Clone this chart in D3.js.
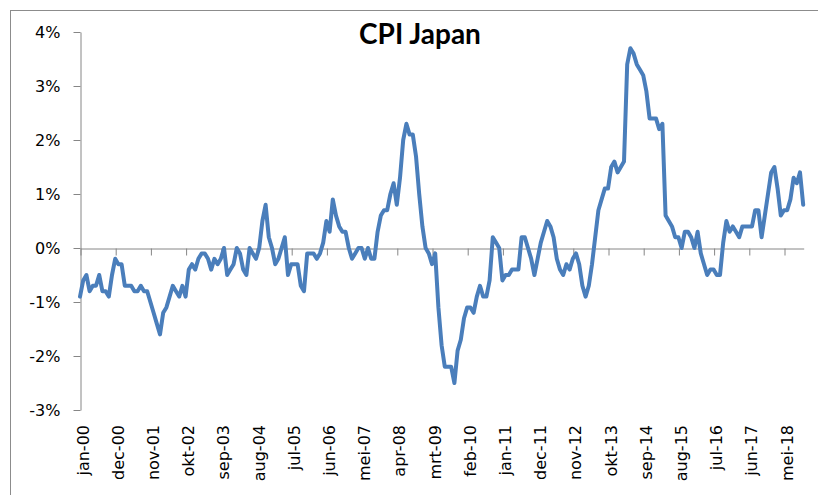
<!DOCTYPE html>
<html><head><meta charset="utf-8">
<script src="https://cdn.jsdelivr.net/npm/d3@7/dist/d3.min.js"></script>
<style>html,body{margin:0;padding:0;background:#fff;overflow:hidden}</style>
</head><body><svg id="chart" width="818" height="495"></svg>
<script>
const title = "CPI Japan";
const monthNames = ["jan","feb","mrt","apr","mei","jun","jul","aug","sep","okt","nov","dec"];
const years = [2000,2001,2002,2003,2004,2005,2006,2007,2008,2009,2010,2011,2012,2013,2014,2015,2016,2017,2018];
const cpi2000 = [-0.9,-0.6,-0.5,-0.8,-0.7,-0.7,-0.5,-0.8,-0.8,-0.9,-0.5,-0.2];
const cpi2001 = [-0.3,-0.3,-0.7,-0.7,-0.7,-0.8,-0.8,-0.7,-0.8,-0.8,-1.0,-1.2];
const cpi2002 = [-1.4,-1.6,-1.2,-1.1,-0.9,-0.7,-0.8,-0.9,-0.7,-0.9,-0.4,-0.3];
const cpi2003 = [-0.4,-0.2,-0.1,-0.1,-0.2,-0.4,-0.2,-0.3,-0.2,0.0,-0.5,-0.4];
const cpi2004 = [-0.3,0.0,-0.1,-0.4,-0.5,0.0,-0.1,-0.2,0.0,0.5,0.8,0.2];
const cpi2005 = [0.0,-0.3,-0.2,0.0,0.2,-0.5,-0.3,-0.3,-0.3,-0.7,-0.8,-0.1];
const cpi2006 = [-0.1,-0.1,-0.2,-0.1,0.1,0.5,0.3,0.9,0.6,0.4,0.3,0.3];
const cpi2007 = [0.0,-0.2,-0.1,0.0,0.0,-0.2,0.0,-0.2,-0.2,0.3,0.6,0.7];
const cpi2008 = [0.7,1.0,1.2,0.8,1.3,2.0,2.3,2.1,2.1,1.7,1.0,0.4];
const cpi2009 = [0.0,-0.1,-0.3,-0.1,-1.1,-1.8,-2.2,-2.2,-2.2,-2.5,-1.9,-1.7];
const cpi2010 = [-1.3,-1.1,-1.1,-1.2,-0.9,-0.7,-0.9,-0.9,-0.6,0.2,0.1,0.0];
const cpi2011 = [-0.6,-0.5,-0.5,-0.4,-0.4,-0.4,0.2,0.2,0.0,-0.2,-0.5,-0.2];
const cpi2012 = [0.1,0.3,0.5,0.4,0.2,-0.2,-0.4,-0.5,-0.3,-0.4,-0.2,-0.1];
const cpi2013 = [-0.3,-0.7,-0.9,-0.7,-0.3,0.2,0.7,0.9,1.1,1.1,1.5,1.6];
const cpi2014 = [1.4,1.5,1.6,3.4,3.7,3.6,3.4,3.3,3.2,2.9,2.4,2.4];
const cpi2015 = [2.4,2.2,2.3,0.6,0.5,0.4,0.2,0.2,0.0,0.3,0.3,0.2];
const cpi2016 = [0.0,0.3,-0.1,-0.3,-0.5,-0.4,-0.4,-0.5,-0.5,0.1,0.5,0.3];
const cpi2017 = [0.4,0.3,0.2,0.4,0.4,0.4,0.4,0.7,0.7,0.2,0.6,1.0];
const cpi2018 = [1.4,1.5,1.1,0.6,0.7,0.7,0.9,1.3,1.2,1.4,0.8];
const yTicks = [-3,-2,-1,0,1,2,3,4];
const xTickLabels = ["jan-00","dec-00","nov-01","okt-02","sep-03","aug-04","jul-05","jun-06","mei-07","apr-08","mrt-09","feb-10","jan-11","dec-11","nov-12","okt-13","sep-14","aug-15","jul-16","jun-17","mei-18"];

const yearly = [cpi2000,cpi2001,cpi2002,cpi2003,cpi2004,cpi2005,cpi2006,cpi2007,cpi2008,cpi2009,cpi2010,cpi2011,cpi2012,cpi2013,cpi2014,cpi2015,cpi2016,cpi2017,cpi2018];
const data = [];
years.forEach((yr, yi) => {
  yearly[yi].forEach((v, mi) => {
    data.push({label: monthNames[mi] + "-" + String(yr).slice(2), value: v});
  });
});
const categories = data.map(d => d.label);

const svg = d3.select("#chart");
const axisColor = "#868686";
const fontFam = "'DejaVu Sans', Verdana, sans-serif";

// chart area border
svg.append("rect").attr("x", 10.5).attr("y", 10.5).attr("width", 830).attr("height", 520)
  .attr("fill", "none").attr("stroke", "#8c8c8c").attr("stroke-width", 1);

const x = d3.scalePoint().domain(categories).range([80, 80 + (categories.length - 1) * 3.2]);
const y = d3.scaleLinear().domain([-3, 4]).range([410, 32]);

// Y axis
const yAxis = svg.append("g").attr("transform", "translate(80.5,0)")
  .call(d3.axisLeft(y).tickValues(yTicks).tickSize(7).tickSizeOuter(0).tickPadding(13).tickFormat(d => d + "%"));
yAxis.select(".domain").attr("stroke", axisColor);
yAxis.selectAll(".tick line").attr("stroke", axisColor);
yAxis.selectAll(".tick text").attr("font-family", fontFam).attr("font-size", 16).attr("fill", "#000");

// X axis at zero
const xAxis = svg.append("g").attr("transform", `translate(0.5,${Math.round(y(0)) + 0.5})`)
  .call(d3.axisBottom(x).tickValues(xTickLabels).tickSize(7).tickSizeOuter(0).tickFormat(""));
xAxis.select(".domain").attr("stroke", axisColor);
xAxis.selectAll(".tick line").attr("stroke", axisColor);

// X labels at bottom, rotated
svg.append("g").selectAll("text").data(xTickLabels).join("text")
  .attr("transform", d => `translate(${x(d) + 3},425) rotate(-90)`)
  .attr("text-anchor", "end")
  .attr("dominant-baseline", "central")
  .attr("font-family", fontFam).attr("font-size", 16).attr("fill", "#000")
  .text(d => d);

// Line
const line = d3.line().x(d => x(d.label)).y(d => y(d.value));
svg.append("path").datum(data).attr("d", line)
  .attr("fill", "none").attr("stroke", "#4a7ebb").attr("stroke-width", 4)
  .attr("stroke-linejoin", "round").attr("stroke-linecap", "round");

// Title
svg.append("text").attr("x", 420).attr("y", 44).attr("text-anchor", "middle")
  .attr("font-family", "Lato, 'Open Sans', sans-serif").attr("font-weight", "bold").attr("font-size", 28)
  .attr("fill", "#000").text(title);
</script>
</body></html>
